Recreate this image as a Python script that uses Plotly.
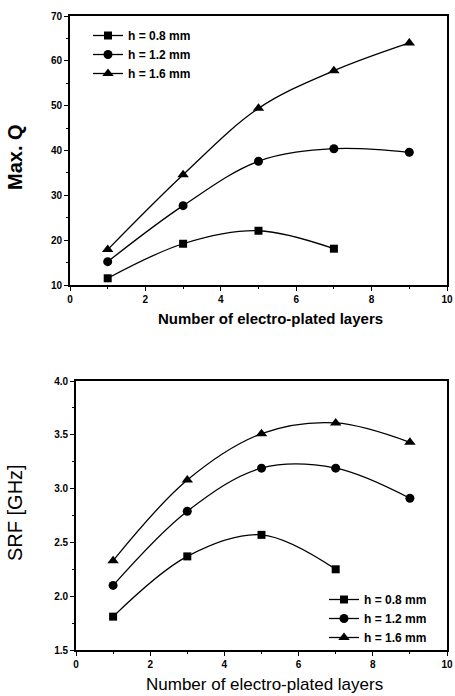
import plotly.graph_objects as go

# ---------------- data ----------------
legend_labels = ["h = 0.8 mm", "h = 1.2 mm", "h = 1.6 mm"]

layers_h08 = [1, 3, 5, 7]
layers_h12 = [1, 3, 5, 7, 9]
layers_h16 = [1, 3, 5, 7, 9]

maxq_h08 = [11.5, 19.2, 22.1, 18.1]
maxq_h12 = [15.2, 27.7, 37.6, 40.4, 39.6]
maxq_h16 = [17.9, 34.6, 49.4, 57.8, 64.0]

srf_h08 = [1.81, 2.37, 2.57, 2.25]
srf_h12 = [2.10, 2.79, 3.19, 3.19, 2.91]
srf_h16 = [2.33, 3.08, 3.51, 3.61, 3.43]

x_title = "Number of electro-plated layers"
y_title_top = "Max. Q"
y_title_bottom = "SRF [GHz]"

# ---------------- figure ----------------
W, H = 455, 696
FONT = "Liberation Sans, Arial, sans-serif"
symbols = ["square", "circle", "triangle-up"]
msizes = [8, 9, 10]

fig = go.Figure()

top_sets = [(layers_h08, maxq_h08), (layers_h12, maxq_h12), (layers_h16, maxq_h16)]
bot_sets = [(layers_h08, srf_h08), (layers_h12, srf_h12), (layers_h16, srf_h16)]

for i, (xs, ys) in enumerate(top_sets):
    fig.add_trace(go.Scatter(
        x=xs, y=ys, name=legend_labels[i], mode="lines+markers",
        line=dict(color="black", width=1.3, shape="spline", smoothing=1.0),
        marker=dict(symbol=symbols[i], size=msizes[i], color="black"),
        xaxis="x", yaxis="y", legend="legend",
    ))

for i, (xs, ys) in enumerate(bot_sets):
    fig.add_trace(go.Scatter(
        x=xs, y=ys, name=legend_labels[i], mode="lines+markers",
        line=dict(color="black", width=1.3, shape="spline", smoothing=1.0),
        marker=dict(symbol=symbols[i], size=msizes[i], color="black"),
        xaxis="x2", yaxis="y2", legend="legend2",
    ))

def px_x(p):
    return p / W

def px_y(p):
    return 1 - p / H

axis_common = dict(
    showline=True, linecolor="black", linewidth=1.8, mirror=True,
    ticks="outside", ticklen=4, tickwidth=1.2, tickcolor="black",
    showgrid=False, zeroline=False,
    tickfont=dict(family=FONT, size=10, color="black", weight="bold"),
    automargin=False, ticklabeloverflow="allow",
)

legend_font = dict(family=FONT, size=12, color="black", weight="bold")

fig.update_layout(
    width=W, height=H,
    margin=dict(l=0, r=0, t=0, b=0),
    paper_bgcolor="white", plot_bgcolor="white",
    showlegend=True,
    xaxis=dict(domain=[px_x(70), px_x(447)], range=[0, 10], dtick=2, anchor="y",
               minor=dict(dtick=1, ticks="outside", ticklen=2, tickcolor="black"),
               **axis_common),
    yaxis=dict(domain=[px_y(285), px_y(16)], range=[10, 70], dtick=10, anchor="x",
               minor=dict(dtick=5, ticks="outside", ticklen=2, tickcolor="black"),
               **axis_common),
    xaxis2=dict(domain=[px_x(76), px_x(447)], range=[0, 10], dtick=2, anchor="y2",
                minor=dict(dtick=1, ticks="outside", ticklen=2, tickcolor="black"),
                **axis_common),
    yaxis2=dict(domain=[px_y(650), px_y(381)], range=[1.5, 4.0], dtick=0.5,
                tickformat=".1f", anchor="x2",
                minor=dict(dtick=0.25, ticks="outside", ticklen=2, tickcolor="black"),
                **axis_common),
    legend=dict(x=px_x(88), y=px_y(21), xanchor="left", yanchor="top",
                bgcolor="rgba(0,0,0,0)", itemwidth=30, tracegroupgap=0,
                font=legend_font),
    legend2=dict(x=px_x(324), y=px_y(585), xanchor="left", yanchor="top",
                 bgcolor="rgba(0,0,0,0)", itemwidth=30, tracegroupgap=0,
                 font=legend_font),
    annotations=[
        dict(text=x_title, xref="paper", yref="paper", x=px_x(270), y=px_y(319),
             showarrow=False, xanchor="center", yanchor="middle",
             font=dict(family=FONT, size=15, color="black", weight="bold")),
        dict(text=x_title, xref="paper", yref="paper", x=px_x(264), y=px_y(684),
             showarrow=False, xanchor="center", yanchor="middle",
             font=dict(family=FONT, size=17, color="black")),
        dict(text=y_title_top, xref="paper", yref="paper", x=px_x(15), y=px_y(157),
             showarrow=False, xanchor="center", yanchor="middle", textangle=-90,
             font=dict(family=FONT, size=20, color="black", weight="bold")),
        dict(text=y_title_bottom, xref="paper", yref="paper", x=px_x(15), y=px_y(513),
             showarrow=False, xanchor="center", yanchor="middle", textangle=-90,
             font=dict(family=FONT, size=20, color="black")),
    ],
)

fig.write_html("out.html")
